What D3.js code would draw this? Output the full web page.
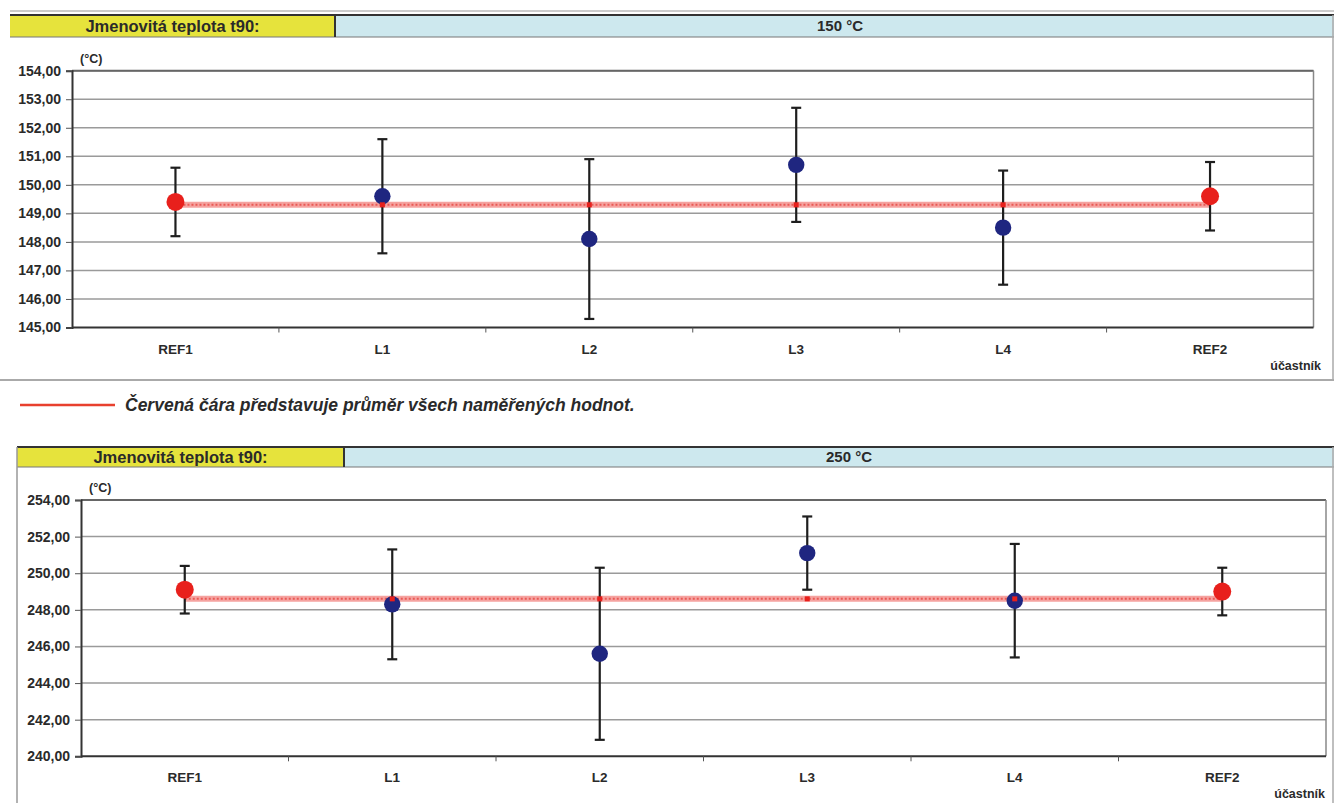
<!DOCTYPE html>
<html>
<head>
<meta charset="utf-8">
<script src="https://cdn.jsdelivr.net/npm/d3@7"></script>
<style>
  body { margin: 0; background: #fff; }
  text { font-family: "Liberation Sans", Arial, sans-serif; fill: #2a2a2a; }
</style>
</head>
<body>
<div id="graph"></div>
<script>
// participants
const categories = ["REF1", "L1", "L2", "L3", "L4", "REF2"];

// 150 °C
const values150 = [149.4, 149.6, 148.1, 150.7, 148.5, 149.6];
const upper150 = [150.6, 151.6, 150.9, 152.7, 150.5, 150.8];
const lower150 = [148.2, 147.6, 145.3, 148.7, 146.5, 148.4];
const mean150 = 149.3;
const ticks150 = [145, 146, 147, 148, 149, 150, 151, 152, 153, 154];

// 250 °C
const values250 = [249.1, 248.3, 245.6, 251.1, 248.5, 249.0];
const upper250 = [250.4, 251.3, 250.3, 253.1, 251.6, 250.3];
const lower250 = [247.8, 245.3, 240.9, 249.1, 245.4, 247.7];
const mean250 = 248.6;
const ticks250 = [240, 242, 244, 246, 248, 250, 252, 254];

const refs = ["REF1", "REF2"];

let width = 1334;
let height = 803;

let svg = d3.select("#graph")
    .append("svg")
    .attr("width", width)
    .attr("height", height);

function fmt(v) {
    return d3.format(".2f")(v).replace(".", ",");
}

function drawChart(cfg) {
    let g = svg.append("g");

    // header strip
    g.append("rect").attr("x", cfg.hx).attr("y", cfg.hy).attr("width", cfg.split - cfg.hx).attr("height", cfg.hh)
        .attr("fill", "#e6e33c");
    g.append("rect").attr("x", cfg.split).attr("y", cfg.hy).attr("width", width - cfg.split).attr("height", cfg.hh)
        .attr("fill", "#cde8ee");
    g.append("line").attr("x1", cfg.hx).attr("x2", width).attr("y1", cfg.hy).attr("y2", cfg.hy)
        .attr("stroke", "#333").attr("stroke-width", 2);
    g.append("line").attr("x1", cfg.hx).attr("x2", width).attr("y1", cfg.hy + cfg.hh).attr("y2", cfg.hy + cfg.hh)
        .attr("stroke", "#777").attr("stroke-width", 1);
    g.append("line").attr("x1", cfg.split).attr("x2", cfg.split).attr("y1", cfg.hy).attr("y2", cfg.hy + cfg.hh)
        .attr("stroke", "#333").attr("stroke-width", 2);
    if (cfg.leftBorder) {
        g.append("line").attr("x1", cfg.hx).attr("x2", cfg.hx).attr("y1", cfg.hy).attr("y2", cfg.boxBottom)
            .attr("stroke", "#999").attr("stroke-width", 1.5);
    }
    g.append("text").attr("x", (cfg.hx + cfg.split) / 2).attr("y", cfg.hy + cfg.hh / 2 + 6)
        .attr("text-anchor", "middle").attr("font-size", "16.5px").attr("font-weight", "bold")
        .text("Jmenovitá teplota t90:");
    g.append("text").attr("x", cfg.titleX).attr("y", cfg.hy + cfg.hh / 2 + 5)
        .attr("text-anchor", "middle").attr("font-size", "15px").attr("font-weight", "bold")
        .text(cfg.title);

    // outer box right/bottom
    g.append("line").attr("x1", width - 1).attr("x2", width - 1).attr("y1", cfg.hy).attr("y2", cfg.boxBottom)
        .attr("stroke", "#aaa").attr("stroke-width", 1.5);
    if (cfg.boxBottom < height) {
        g.append("line").attr("x1", 0).attr("x2", width).attr("y1", cfg.boxBottom).attr("y2", cfg.boxBottom)
            .attr("stroke", "#aaa").attr("stroke-width", 2);
    }

    let xScale = d3.scaleBand().range([cfg.x0, cfg.x1]).domain(categories);
    let yScale = d3.scaleLinear().range([cfg.y0, cfg.y1]).domain(cfg.domain);
    let cx = c => xScale(c) + xScale.bandwidth() / 2;

    // grid
    g.selectAll(".grid")
        .data(cfg.ticks.slice(1))
        .enter().append("line")
        .attr("x1", cfg.x0).attr("x2", cfg.x1)
        .attr("y1", d => yScale(d)).attr("y2", d => yScale(d))
        .attr("stroke", "#9a9a9a").attr("stroke-width", 1.5);

    // plot frame (top, right)
    g.append("line").attr("x1", cfg.x0).attr("x2", cfg.x1).attr("y1", cfg.y1).attr("y2", cfg.y1)
        .attr("stroke", "#666").attr("stroke-width", 2);
    g.append("line").attr("x1", cfg.x1).attr("x2", cfg.x1).attr("y1", cfg.y1).attr("y2", cfg.y0)
        .attr("stroke", "#888").attr("stroke-width", 1.5);

    // y axis
    let ya = g.append("g")
        .attr("transform", "translate(" + cfg.x0 + ",0)")
        .call(d3.axisLeft(yScale).tickValues(cfg.ticks).tickFormat(fmt).tickSize(6).tickPadding(5));
    ya.select(".domain").attr("stroke", "#333").attr("stroke-width", 2);
    ya.selectAll(".tick line").attr("stroke", "#555");
    ya.selectAll("text").attr("font-size", "14px").attr("font-weight", "bold")
        .attr("font-family", "Liberation Sans, Arial, sans-serif").attr("fill", "#2a2a2a");

    // x axis, ticks on band boundaries
    g.append("line").attr("x1", cfg.x0).attr("x2", cfg.x1).attr("y1", cfg.y0).attr("y2", cfg.y0)
        .attr("stroke", "#333").attr("stroke-width", 2);
    g.selectAll(".xtick")
        .data(categories.slice(1))
        .enter().append("line")
        .attr("x1", d => xScale(d)).attr("x2", d => xScale(d))
        .attr("y1", cfg.y0).attr("y2", cfg.y0 + 5)
        .attr("stroke", "#555").attr("stroke-width", 1);
    g.selectAll(".xlab")
        .data(categories)
        .enter().append("text")
        .attr("x", d => cx(d)).attr("y", cfg.y0 + 26)
        .attr("text-anchor", "middle").attr("font-size", "13.5px").attr("font-weight", "bold")
        .text(d => d);

    g.append("text").attr("x", cfg.x0 + 8).attr("y", cfg.y1 - 8)
        .attr("font-size", "12.5px").attr("font-weight", "bold").text("(°C)");
    g.append("text").attr("x", cfg.unitX).attr("y", cfg.y0 + 42)
        .attr("text-anchor", "end").attr("font-size", "12.5px").attr("font-weight", "bold").text("účastník");

    // mean line
    let meanY = yScale(cfg.mean);
    g.append("line")
        .attr("x1", cx(categories[0])).attr("x2", cx(categories[categories.length - 1]))
        .attr("y1", meanY).attr("y2", meanY)
        .attr("stroke", "#f5a3a0").attr("stroke-width", 6);
    g.append("line")
        .attr("x1", cx(categories[0])).attr("x2", cx(categories[categories.length - 1]))
        .attr("y1", meanY).attr("y2", meanY)
        .attr("stroke", "#ea5a55").attr("stroke-width", 2).attr("stroke-dasharray", "2,2");

    let rows = categories.map((c, i) => ({ c: c, v: cfg.values[i], hi: cfg.upper[i], lo: cfg.lower[i] }));

    // error bars
    let eb = g.selectAll(".err").data(rows).enter().append("g");
    eb.append("line")
        .attr("x1", d => cx(d.c)).attr("x2", d => cx(d.c))
        .attr("y1", d => yScale(d.hi)).attr("y2", d => yScale(d.lo))
        .attr("stroke", "#1e1e1e").attr("stroke-width", 2.2);
    eb.append("line")
        .attr("x1", d => cx(d.c) - 5).attr("x2", d => cx(d.c) + 5)
        .attr("y1", d => yScale(d.hi)).attr("y2", d => yScale(d.hi))
        .attr("stroke", "#1e1e1e").attr("stroke-width", 2.2);
    eb.append("line")
        .attr("x1", d => cx(d.c) - 5).attr("x2", d => cx(d.c) + 5)
        .attr("y1", d => yScale(d.lo)).attr("y2", d => yScale(d.lo))
        .attr("stroke", "#1e1e1e").attr("stroke-width", 2.2);

    // points
    g.selectAll(".pt").data(rows).enter().append("circle")
        .attr("cx", d => cx(d.c)).attr("cy", d => yScale(d.v))
        .attr("r", d => refs.includes(d.c) ? 9 : 8.2)
        .attr("fill", d => refs.includes(d.c) ? "#e8201c" : "#1f2680");

    // small mean markers on participants
    g.selectAll(".mk").data(categories.slice(1, -1)).enter().append("rect")
        .attr("x", d => cx(d) - 2.5).attr("y", meanY - 2.5)
        .attr("width", 5).attr("height", 5)
        .attr("fill", "#e8201c");
}

// thin double rule on top
svg.append("line").attr("x1", 10).attr("x2", width).attr("y1", 11).attr("y2", 11)
    .attr("stroke", "#999").attr("stroke-width", 1);

drawChart({
    hx: 10, hy: 15, hh: 22, split: 335, title: "150 °C", titleX: 840,
    boxBottom: 380, leftBorder: false, unitX: 1321,
    x0: 72, x1: 1313.5, y0: 327.5, y1: 70.7,
    domain: [145, 154], ticks: ticks150,
    values: values150, upper: upper150, lower: lower150, mean: mean150
});

drawChart({
    hx: 17, hy: 447, hh: 20, split: 344, title: "250 °C", titleX: 849,
    boxBottom: 810, leftBorder: true, unitX: 1325,
    x0: 81, x1: 1326, y0: 756.3, y1: 500,
    domain: [240, 254], ticks: ticks250,
    values: values250, upper: upper250, lower: lower250, mean: mean250
});

// legend
svg.append("line").attr("x1", 20).attr("x2", 115).attr("y1", 405).attr("y2", 405)
    .attr("stroke", "#e8402e").attr("stroke-width", 2.5);
svg.append("text").attr("x", 125).attr("y", 411)
    .attr("font-size", "17.5px").attr("font-weight", "bold").attr("font-style", "italic")
    .text("Červená čára představuje průměr všech naměřených hodnot.");
</script>
</body>
</html>
